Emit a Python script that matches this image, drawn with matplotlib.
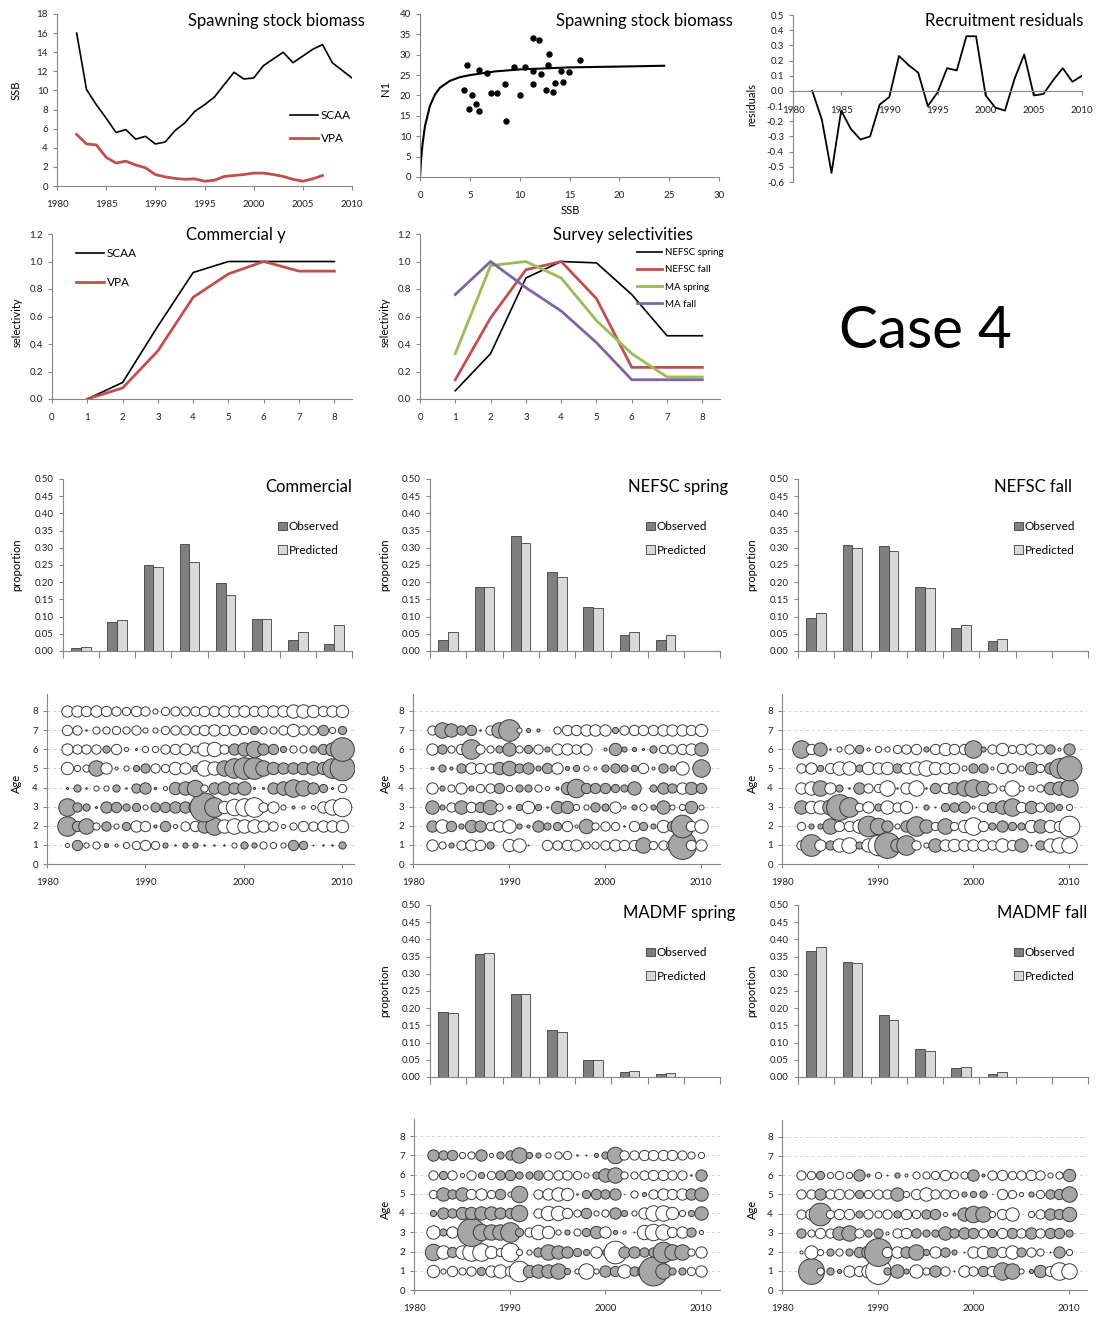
import matplotlib
matplotlib.use('Agg')
import matplotlib.pyplot as plt
from matplotlib.ticker import FormatStrFormatter

plt.rcParams['font.family'] = ['Lato', 'DejaVu Sans']

# ---------------- data ----------------
years = list(range(1982, 2011))
ssb_scaa = [16.0, 10.1, 8.5, 7.1, 5.6, 5.9, 4.9, 5.2, 4.4, 4.6, 5.8, 6.6, 7.8, 8.5, 9.3,
            10.6, 11.9, 11.2, 11.3, 12.6, 13.3, 14.0, 12.9, 13.6, 14.3, 14.8, 12.9, 12.1, 11.3]
vpa_years = list(range(1982, 2008))
ssb_vpa = [5.4, 4.4, 4.3, 3.0, 2.4, 2.6, 2.2, 1.9, 1.2, 0.95, 0.8, 0.7, 0.75, 0.5, 0.6,
           1.0, 1.1, 1.2, 1.35, 1.35, 1.2, 1.0, 0.7, 0.5, 0.75, 1.1]

sr_ssb = [4.74, 4.41, 5.18, 4.94, 5.61, 5.91, 5.88, 6.68, 7.12, 7.75, 8.52, 8.59, 9.39, 10.02, 10.56,
          11.33, 11.29, 11.36, 11.93, 12.19, 12.6, 12.83, 12.93, 13.36, 13.56, 14.13, 14.37, 14.93, 16.04]
sr_n1 = [27.6, 21.4, 20.2, 16.8, 17.8, 16.3, 26.2, 25.5, 20.5, 20.6, 22.9, 13.8, 26.9, 20.0, 26.9,
         34.0, 22.9, 26.0, 33.6, 25.3, 21.4, 27.5, 30.1, 20.9, 23.1, 25.9, 23.2, 25.7, 28.6]
curve_ssb = [0, 0.1, 0.25, 0.5, 1, 1.5, 2, 3, 4, 5, 7.5, 10, 15, 20, 24.5]
curve_n1 = [0, 4.0, 8.0, 12.5, 17.5, 20.2, 21.9, 23.6, 24.5, 25.0, 25.9, 26.4, 26.9, 27.1, 27.3]

rec_resid = [0.0, -0.19, -0.54, -0.13, -0.25, -0.32, -0.30, -0.09, -0.04, 0.23, 0.17, 0.12, -0.10, -0.01,
             0.15, 0.135, 0.36, 0.36, -0.03, -0.11, -0.13, 0.08, 0.24, -0.03, -0.02, 0.07, 0.15, 0.06, 0.10]

ages = [1, 2, 3, 4, 5, 6, 7, 8]
comm_sel_scaa = [0.0, 0.12, 0.53, 0.92, 1.0, 1.0, 1.0, 1.0]
comm_sel_vpa = [0.0, 0.08, 0.35, 0.74, 0.91, 1.0, 0.93, 0.93]

sel_nefsc_spring = [0.06, 0.33, 0.88, 1.0, 0.99, 0.76, 0.46, 0.46]
sel_nefsc_fall = [0.14, 0.59, 0.94, 1.0, 0.73, 0.23, 0.23, 0.23]
sel_ma_spring = [0.33, 0.97, 1.0, 0.88, 0.57, 0.33, 0.16, 0.16]
sel_ma_fall = [0.76, 1.0, 0.81, 0.64, 0.41, 0.14, 0.14, 0.14]

comm_obs = [0.009, 0.083, 0.249, 0.310, 0.199, 0.092, 0.033, 0.021]
comm_pred = [0.012, 0.089, 0.244, 0.260, 0.164, 0.094, 0.054, 0.077]
nsp_obs = [0.033, 0.185, 0.335, 0.230, 0.129, 0.047, 0.033, 0]
nsp_pred = [0.054, 0.185, 0.314, 0.216, 0.124, 0.054, 0.047, 0]
nfa_obs = [0.097, 0.309, 0.306, 0.185, 0.068, 0.030, 0, 0]
nfa_pred = [0.110, 0.298, 0.292, 0.183, 0.077, 0.035, 0, 0]
msp_obs = [0.190, 0.358, 0.242, 0.136, 0.048, 0.014, 0.009, 0]
msp_pred = [0.185, 0.360, 0.242, 0.132, 0.050, 0.016, 0.011, 0]
mfa_obs = [0.366, 0.335, 0.180, 0.080, 0.026, 0.009, 0, 0]
mfa_pred = [0.377, 0.331, 0.167, 0.077, 0.028, 0.014, 0, 0]

# residuals by age (rows = age 1,2,...), columns = years 1982..2010
comm_resid = [
    [-0.4, 1.0, -0.5, -0.7, 0.4, -0.3, -0.6, -0.8, -1.0, -0.8, 0.5, 0.15, 0.5, 0.5, 0.15, 0.15, 0.15, -0.5, 0.7, 0.5, -0.7, -0.6, -0.5, 1.0, 0.8, 0.1, 0.15, 0.15, 0.7],
    [1.9, 1.0, 1.5, -0.7, 0.9, -0.5, 0.8, -1.1, -1.0, 0.3, 1.0, -0.4, -0.9, -1.0, 1.3, 1.7, -1.3, -1.5, -1.3, -1.3, -1.1, -0.9, -0.4, -0.7, -1.0, -0.9, -1.1, -1.1, -1.2],
    [1.7, 0.9, 0.7, 0.2, 1.1, 1.0, 0.7, 0.8, -0.5, 0.9, 1.0, 1.1, 1.1, 1.3, 2.8, 1.9, -1.2, -1.6, -1.7, -1.9, -0.9, -1.1, -0.5, 0.3, -0.3, -0.4, -1.1, -1.5, -1.8],
    [0.2, 0.7, 0.15, -0.5, -0.5, 0.7, 0.15, 0.9, 1.1, 0.25, -0.4, 1.2, 1.3, 1.6, -0.7, 1.1, 1.3, 1.1, 1.3, 0.2, 0.2, 1.1, 1.3, 1.7, 1.5, 1.1, 0.8, 0.2, -0.8],
    [-1.2, -0.6, -0.7, 1.5, -1.1, -0.3, -0.5, 0.6, 0.9, -0.9, -0.8, -1.2, -1.1, 0.6, -1.5, -1.3, 1.5, 1.9, 2.1, 2.1, 1.5, 1.2, 1.1, 1.1, 1.2, 1.3, 1.2, 1.9, 2.4],
    [-1.1, -0.9, -0.9, -0.9, 0.7, -1.0, -0.4, 0.2, -0.6, -0.6, -0.9, -1.0, -1.1, -0.7, -1.3, -1.4, -0.9, 1.1, 1.3, 1.6, 1.1, 1.0, 0.6, -0.7, -0.7, 0.7, 1.0, 1.3, 2.3],
    [-1.0, -0.9, 0.15, -0.7, -0.7, -0.8, -0.7, -0.9, -0.5, -0.5, -0.8, -0.9, -0.9, -0.9, -1.0, -1.1, -1.0, -1.0, -0.8, 0.8, -0.7, -0.7, -0.9, -1.2, -0.9, -0.9, 1.0, -0.6, 0.8],
    [-1.1, -1.1, -1.0, -1.1, -1.0, -0.9, -0.8, -1.0, -0.9, -0.5, -0.8, -0.9, -0.9, -0.9, -1.0, -1.0, -1.1, -1.1, -1.1, -1.0, -1.1, -1.1, -1.1, -1.3, -1.3, -1.2, -1.0, -1.1, -1.2],
]
nsp_resid = [
    [-1.1, -0.7, 0.5, -0.9, -1.1, -1.0, 0.7, 0, -1.2, -1.3, 0.1, 0, -1.0, -0.9, -1.0, -1.1, -0.7, -0.7, -0.9, -1.1, -1.0, -1.0, 1.5, -0.8, -0.9, -1.1, 2.7, -1.0, -1.1],
    [1.1, -1.3, 1.0, 0.5, 1.2, 1.1, -0.8, -1.1, -1.3, 0.5, 0.3, 1.1, 0.7, 0.8, -1.0, -0.3, 1.4, -0.7, -0.9, -0.8, 0.15, -1.0, 0.8, 0.5, -1.2, 1.0, 2.2, -1.0, -1.3],
    [1.3, 0.5, -0.9, 1.3, -1.0, 1.0, 1.4, -0.7, 0.3, 0.6, -1.2, 0.6, 0.15, 1.2, 1.2, -0.6, -0.5, 0.9, 0.7, -1.1, -0.3, 0.5, -0.7, 0.5, 1.3, -0.5, -0.6, 1.2, -0.5],
    [-1.1, 0.5, -0.7, -1.1, 0.5, -0.8, -0.9, 1.0, -0.6, 0.7, 0.7, -0.7, -0.4, 0.3, 1.2, 1.8, 1.0, 1.0, 1.0, 0.8, 0.7, 1.3, 0, 0.7, 1.1, 0.9, -1.1, 1.2, 1.0],
    [0.3, 0.7, 0.3, 0.9, -1.1, -1.0, -0.9, 1.2, 1.4, 0.9, 1.1, 0.5, 1.0, -1.1, 0.4, 0.6, -0.5, -0.3, 0.7, 0.9, 0.7, 0.6, -1.0, -0.3, 0.9, 0.5, -1.3, 0, 1.7],
    [-1.1, 0.9, -0.7, -1.0, 1.9, -0.9, -0.7, 0.7, 1.3, -0.7, 0.8, -0.9, 0.5, -1.1, -1.1, -0.9, -1.1, 0, -0.3, 1.2, 0.5, 0.4, 0.2, 0.7, -0.8, -0.9, -1.0, -1.1, 1.3],
    [-0.9, 1.5, 1.3, 0.9, 1.0, 0.15, -0.9, 1.5, 2.1, -0.5, 0.4, 0.3, 0, -0.7, -1.0, -1.0, -1.1, -1.1, -1.1, 0.6, -0.9, -1.0, -1.0, -1.0, -1.1, -1.1, -1.1, -1.0, -1.2],
]
nfa_resid = [
    [-0.9, 2.1, -1.1, 0.9, -1.3, -1.5, 0.7, -1.3, -2.0, 2.5, 1.3, 1.9, -0.9, -0.5, 1.3, -1.1, -1.2, -1.1, -1.1, -1.1, -0.9, -1.3, -1.0, 1.3, 0.1, 0.9, -1.3, -1.5, -1.5],
    [-0.8, 0.5, 0.5, 1.5, -1.0, -1.0, -1.3, 2.0, 1.6, 1.1, -0.5, 1.1, 1.9, 1.3, -0.8, 1.5, -0.8, -1.2, -1.7, -1.0, 0.7, 1.1, 0.8, 0.7, -1.2, 1.3, -1.2, -1.0, -2.0],
    [1.3, -1.2, -1.3, 1.5, 2.5, 1.9, -0.8, -1.1, 0.7, -1.3, -0.9, -1.2, 0.1, 0.5, 0.1, 0.8, 0.9, 1.1, -0.3, -0.9, 1.0, 1.3, 1.7, -1.0, 1.2, -0.9, 0.9, 0.6, -0.6],
    [-1.1, -1.3, 1.5, -1.1, 0.7, 0.15, 1.1, -0.9, -0.8, -1.5, -0.15, -1.1, -1.5, 0.15, 1.0, -1.0, 1.2, 1.5, 1.7, 1.4, -0.9, -0.5, -1.5, -0.5, -0.5, -0.7, 1.2, 1.3, 1.7],
    [-0.9, -1.1, 0.6, -1.0, -1.3, -1.3, 0.7, -1.2, -1.1, -1.2, 0.9, -1.1, -1.3, -1.5, -1.2, -1.1, -1.0, -0.5, 0.9, 0.9, -0.3, -1.0, -0.9, -0.5, 1.2, -0.8, 1.1, 1.9, 2.4],
    [1.7, -1.0, 1.3, 0.15, -0.5, -0.9, 0.8, -0.3, -0.6, -0.5, -0.8, -0.9, -1.0, 0.5, -1.0, -1.2, -1.0, -1.0, 1.7, 0.5, -0.9, -1.2, -0.8, -1.0, -1.1, -0.9, 0.9, -0.3, 1.1],
]
msp_resid = [
    [-1.2, -0.5, -1.0, -0.7, -0.9, 0.8, -1.1, -1.3, -1.0, -2.0, 1.2, 1.3, 1.3, 1.5, 0.6, -0.5, -1.5, -0.5, 1.1, 1.0, -1.3, 0.9, 1.3, 2.8, 1.5, 0.7, 0.7, -0.8, -1.1],
    [1.6, -1.3, 1.0, -1.3, -1.7, -1.7, -1.2, -0.8, -1.8, -0.6, -0.5, 0.9, 1.5, 1.3, 1.1, 0.8, 0.6, -1.1, 0.6, -2.2, 1.1, 1.1, 0.9, 0.9, 2.0, 1.5, 1.5, -0.7, -1.1],
    [-1.3, 0.7, -1.1, -0.9, 2.7, 1.6, 1.5, 1.5, 1.9, 0.8, -0.9, -1.4, -1.2, -0.5, 0.5, -0.7, 0.8, 1.2, -1.1, 0.4, -0.3, 0.1, -1.4, -1.6, -1.5, -1.0, -1.1, 0.9, -0.4],
    [0.6, 1.1, 0.9, 1.2, 1.2, 1.3, 1.3, 1.1, 1.0, 1.6, 0, -0.9, -1.4, -1.4, -1.0, -0.7, 1.0, -0.5, -0.7, 1.1, 0.6, -0.5, -1.1, -1.5, -1.5, -1.2, -0.6, 0.6, 1.3],
    [-0.8, 1.3, 0.9, 1.3, -1.0, -1.1, -0.8, 1.0, -0.5, 1.6, 0, -0.9, -1.1, -1.3, -1.2, 0.15, 0.8, 1.0, 0.9, 1.1, 0.05, -0.7, 0.4, -0.9, -1.1, -1.0, -1.1, 1.1, 1.3],
    [-0.9, 0.8, -0.9, -0.4, -0.9, 0.6, -0.8, 0.9, 1.0, 0.7, 0.7, 0.9, -0.9, -0.9, -0.9, -0.8, -0.5, 0.7, 1.3, 1.5, -0.7, -0.7, -0.9, -1.0, -1.0, -0.9, -0.9, 0.15, 1.1],
    [1.1, 0.9, 1.0, -0.6, -0.7, 1.1, -0.4, 0.7, 0.9, 1.5, 0.6, 0.5, -0.5, -0.7, -0.8, 0.15, 0.1, 0.4, 0.7, 1.6, -0.9, -0.9, -1.0, -1.0, -1.0, -1.0, -0.9, -0.7, -0.6],
]
mfa_resid = [
    [0.2, 2.5, -0.7, 0.7, 0.4, -1.1, -1.0, -1.3, -2.5, 0.7, 1.3, 0.5, -1.3, -0.7, 1.1, -0.9, 0.1, -1.1, -0.9, 1.0, -1.0, 1.7, 1.5, -0.5, 0.4, 1.2, -1.0, -1.7, -1.5],
    [-0.3, -1.3, -0.6, 0.7, -0.7, 0.7, 1.0, 1.3, 2.7, -1.0, -1.1, 1.1, 1.5, 0.6, -1.1, 0.9, 0.5, -0.1, -1.1, -1.2, 1.0, -1.0, -1.3, 0.9, -0.9, -0.7, 0.1, 1.1, -0.6],
    [0.9, -0.7, -1.0, -0.9, 1.3, 1.5, -0.9, 0.7, 0.9, -0.3, -0.9, -1.0, 0.9, 0.7, 0.7, 1.3, 0.9, 1.1, 1.0, -0.9, 0.8, -1.0, 1.0, -0.9, 1.1, -0.9, 1.0, 1.0, 0.7],
    [-0.9, -1.1, 2.2, -0.8, -1.0, -1.0, 0.7, -0.9, -0.7, -0.9, 0.7, -1.0, -0.8, 0.9, 1.0, -0.4, 0.3, 1.3, 1.6, 1.5, -0.6, -1.0, -1.3, 0, -0.6, -0.9, 1.1, 1.0, 1.4],
    [-0.9, -0.9, 1.1, -0.9, -1.0, -0.9, 0.8, -0.8, -0.9, -0.9, 1.3, -0.6, -1.0, -1.3, -0.9, -0.9, -0.8, 0.5, 0.6, 0.7, 0.05, -1.0, -0.8, -0.4, 0.5, -0.8, 0.9, 1.0, 1.5],
    [-0.9, -0.8, 0.8, -0.6, -0.8, -0.6, 1.1, 0.3, -0.6, 0.1, 0.5, -0.3, -0.7, -0.7, -0.8, -1.0, -0.7, -0.7, 1.1, 0.3, -0.9, -1.0, -0.8, -0.9, -1.0, -0.9, -0.5, -0.7, 1.2],
]

# ---------------- styling ----------------
RED = '#C0504D'
GREEN = '#9BBB59'
PURPLE = '#8064A2'
AXC = '#868686'
TXT = '#1F1F1F'
OBS_C = '#7F7F7F'
PRED_C = '#D9D9D9'
BUB_GRAY = '#A6A6A6'
BUB_EDGE = '#3A3A3A'

W, H = 1101, 1320
fig = plt.figure(figsize=(W / 100, H / 100), dpi=100)


def box(l, t, r, b):
    return fig.add_axes([l / W, 1 - b / H, (r - l) / W, (b - t) / H])


def style(ax, xpad=7):
    for s in ['top', 'right']:
        ax.spines[s].set_visible(False)
    for s in ['left', 'bottom']:
        ax.spines[s].set_color(AXC)
        ax.spines[s].set_linewidth(0.8)
    ax.tick_params(labelsize=7, colors=AXC, labelcolor=TXT, length=3, width=0.8, direction='out')
    ax.tick_params(axis='x', pad=xpad)
    ax.patch.set_alpha(0)


def ftext(x, y, s, ha='center', size=12, rot=0, **kw):
    fig.text(x / W, 1 - y / H, s, ha=ha, va='center', fontsize=size, rotation=rot, color='black', **kw)


# ---- A: SSB time series
ax = box(57, 14, 352, 186)
style(ax)
ax.plot(years, ssb_scaa, color='black', lw=1.2, label='SCAA')
ax.plot(vpa_years, ssb_vpa, color=RED, lw=2.0, label='VPA')
ax.set_xlim(1980, 2010)
ax.set_ylim(0, 18)
ax.set_yticks(range(0, 19, 2))
ax.set_xticks(range(1980, 2011, 5))
ax.legend(loc='upper left', bbox_to_anchor=(0.79, 0.44), frameon=False, fontsize=8.5,
          handlelength=2.4, handletextpad=0.2, labelspacing=1.0, borderpad=0, borderaxespad=0)
ftext(365, 21, 'Spawning stock biomass', ha='right', size=12)
ftext(16, 90, 'SSB', size=8, rot=90)

# ---- B: stock-recruit
ax = box(420, 14, 719, 177)
style(ax)
ax.plot(curve_ssb, curve_n1, color='black', lw=1.5)
ax.plot(sr_ssb, sr_n1, 'o', color='black', ms=3.6)
ax.set_xlim(0, 30)
ax.set_ylim(0, 40)
ax.set_yticks(range(0, 41, 5))
ax.set_xticks(range(0, 31, 5))
ftext(733, 21, 'Spawning stock biomass', ha='right', size=12)
ftext(385, 88, 'N1', size=8, rot=90)
ftext(570, 210, 'SSB', size=8)

# ---- C: recruitment residuals
ax = box(793, 15, 1082, 182)
style(ax, xpad=8)
ax.plot(years, rec_resid, color='black', lw=1.3)
ax.set_xlim(1980, 2010)
ax.set_ylim(-0.6, 0.5)
ax.spines['bottom'].set_position(('data', 0))
ax.set_yticks([0.5, 0.4, 0.3, 0.2, 0.1, 0.0, -0.1, -0.2, -0.3, -0.4, -0.5, -0.6])
ax.yaxis.set_major_formatter(FormatStrFormatter('%.1f'))
ax.set_xticks(range(1980, 2011, 5))
ftext(1083, 21, 'Recruitment residuals', ha='right', size=12)
ftext(752, 105, 'residuals', size=8, rot=90)

# ---- D: commercial selectivity
ax = box(52, 234, 352, 399)
style(ax)
ax.plot(ages, comm_sel_scaa, color='black', lw=1.2, label='SCAA')
ax.plot(ages, comm_sel_vpa, color=RED, lw=2.0, label='VPA')
ax.set_xlim(0, 8.5)
ax.set_ylim(0, 1.2)
ax.set_yticks([0, 0.2, 0.4, 0.6, 0.8, 1.0, 1.2])
ax.yaxis.set_major_formatter(FormatStrFormatter('%.1f'))
ax.set_xticks(range(0, 9))
ax.legend(loc='upper left', bbox_to_anchor=(0.08, 0.915), frameon=False, fontsize=8.5,
          handlelength=2.4, handletextpad=0.2, labelspacing=1.55, borderpad=0, borderaxespad=0)
ftext(236, 235, 'Commercial y', size=12)
ftext(17, 322, 'selectivity', size=8, rot=90)

# ---- E: survey selectivities
ax = box(420, 234, 720, 399)
style(ax)
ax.plot(ages, sel_nefsc_spring, color='black', lw=1.2, label='NEFSC spring')
ax.plot(ages, sel_nefsc_fall, color=RED, lw=2.0, label='NEFSC fall')
ax.plot(ages, sel_ma_spring, color=GREEN, lw=2.0, label='MA spring')
ax.plot(ages, sel_ma_fall, color=PURPLE, lw=2.0, label='MA fall')
ax.set_xlim(0, 8.5)
ax.set_ylim(0, 1.2)
ax.set_yticks([0, 0.2, 0.4, 0.6, 0.8, 1.0, 1.2])
ax.yaxis.set_major_formatter(FormatStrFormatter('%.1f'))
ax.set_xticks(range(0, 9))
ax.legend(loc='upper left', bbox_to_anchor=(0.723, 0.915), frameon=False, fontsize=7,
          handlelength=2.6, handletextpad=0.3, labelspacing=0.85, borderpad=0, borderaxespad=0)
ftext(623, 235, 'Survey selectivities', size=12)
ftext(385, 322, 'selectivity', size=8, rot=90)

# ---- Case 4
ftext(925, 331, 'Case 4', size=42)


# ---- bar charts
def bars(l, t, r, b, obs, pred, title, tx, ylab_x):
    ax = box(l, t, r, b)
    style(ax)
    x = list(range(1, len(obs) + 1))
    ax.bar([i - 0.135 for i in x], obs, width=0.27, color=OBS_C, edgecolor='#3F3F3F', lw=0.6, label='Observed')
    ax.bar([i + 0.135 for i in x], pred, width=0.27, color=PRED_C, edgecolor='#3F3F3F', lw=0.6, label='Predicted')
    ax.set_xlim(0.5, len(obs) + 0.5)
    ax.set_ylim(0, 0.5)
    ax.set_yticks([i * 0.05 for i in range(11)])
    ax.yaxis.set_major_formatter(FormatStrFormatter('%.2f'))
    ax.set_xticks([i + 0.5 for i in range(0, len(obs) + 1)])
    ax.set_xticklabels([])
    ax.tick_params(axis='x', length=5)
    ax.legend(loc='upper left', bbox_to_anchor=(0.744, 0.755), frameon=False, fontsize=8.5,
              handlelength=0.75, handleheight=0.75, handletextpad=0.15, labelspacing=1.05,
              borderpad=0, borderaxespad=0)
    ftext(tx, t + 8, title, ha='right', size=12)
    ftext(ylab_x, (t + b) / 2, 'proportion', size=8, rot=90)


bars(63, 479, 352, 651, comm_obs, comm_pred, 'Commercial', 352, 17)
bars(430, 479, 720, 651, nsp_obs, nsp_pred, 'NEFSC spring', 728, 385)
bars(798, 479, 1088, 651, nfa_obs, nfa_pred, 'NEFSC fall', 1072, 752)
bars(430, 905, 720, 1077, msp_obs, msp_pred, 'MADMF spring', 735, 385)
bars(798, 905, 1088, 1077, mfa_obs, mfa_pred, 'MADMF fall', 1087, 752)


# ---- bubble plots
def bubbles(l, r, t, b, resid, xmax, ylab_x):
    ax = box(l, t, r, b)
    style(ax)
    for a in range(1, 9):
        ax.axhline(a, color='#D0D0D0', lw=0.7, ls=(0, (3, 3)), zorder=0)
    for ai, row in enumerate(resid):
        age = ai + 1
        for yr, v in zip(years, row):
            if v == 0:
                continue
            d_pt = 10.3 * abs(v) * 0.72
            ax.scatter([yr], [age], s=d_pt ** 2, facecolor=BUB_GRAY if v > 0 else 'white',
                       edgecolor=BUB_EDGE, linewidth=0.7, zorder=3)
    ax.set_xlim(1980, xmax)
    ax.set_ylim(0, 8.9)
    ax.set_yticks(range(0, 9))
    ax.set_xticks([1980, 1990, 2000, 2010])
    ftext(ylab_x, (t + b) / 2 + 5, 'Age', size=8, rot=90)


def ypx(top8, zero):
    return zero - (zero - top8) / 8 * 8.9


bubbles(47, 354, ypx(711, 864), 864, comm_resid, 2011.2, 16)
bubbles(413, 720, ypx(711, 864), 864, nsp_resid, 1980 + (720 - 413) / 9.6, 385)
bubbles(782, 1087, ypx(711, 864), 864, nfa_resid, 1980 + (1087 - 782) / 9.5667, 752)
bubbles(414, 720, ypx(1136, 1290), 1290, msp_resid, 1980 + (720 - 414) / 9.5667, 385)
bubbles(782, 1087, ypx(1137, 1290), 1290, mfa_resid, 1980 + (1087 - 782) / 9.5667, 752)

fig.savefig('out.png', dpi=100)
